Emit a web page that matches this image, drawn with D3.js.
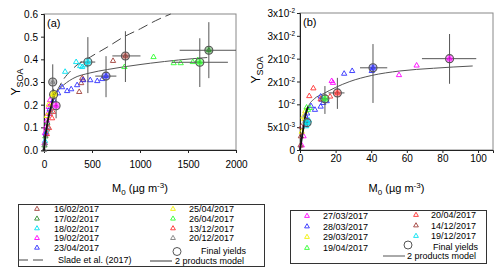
<!DOCTYPE html>
<html><head><meta charset="utf-8">
<script src="https://cdn.jsdelivr.net/npm/d3@7"></script>
<style>body{margin:0;background:#fff}svg{font-family:"Liberation Sans",Arial,sans-serif}</style>
</head><body><svg id="c" width="500" height="275"></svg>
<script>
// ---------- DATA: panel (a) ----------
const xTicksA = [0, 500, 1000, 1500, 2000];
const yTicksA = [0, 0.1, 0.2, 0.3, 0.4, 0.5, 0.6];
const yTickLabelsA = ["0.0","0.1","0.2","0.3","0.4","0.5","0.6"];
const seriesNamesA = ["16/02/2017","17/02/2017","18/02/2017","19/02/2017","23/04/2017","25/04/2017","26/04/2017","13/12/2017","20/12/2017"];
const seriesColorsA = ["#a0403a","#2e8b2e","#00e0f0","#ff00ff","#3030ff","#f0f000","#30ff30","#ff3030","#808080"];
const a_16_02 = [[367,0.256],[387,0.295],[398,0.317],[408,0.31],[719,0.393],[30,0.09],[60,0.16]];
const a_17_02 = [[5,0.02],[15,0.06],[35,0.12]];
const a_18_02 = [[220,0.345],[335,0.388],[377,0.37],[398,0.366],[430,0.374],[10,0.04],[25,0.08]];
const a_19_02 = [[5,0.03],[10,0.075],[20,0.1],[30,0.13],[40,0.16],[50,0.19],[63,0.22],[70,0.2]];
const a_23_04 = [[147,0.25],[188,0.277],[241,0.26],[283,0.268],[345,0.286],[408,0.308],[482,0.308],[555,0.304],[607,0.313],[20,0.07],[60,0.18],[100,0.22]];
const a_25_04 = [[30,0.15],[50,0.2],[90,0.245],[110,0.25]];
const a_26_04 = [[838,0.366],[1141,0.41],[1351,0.383],[1424,0.383],[1550,0.388],[1602,0.396]];
const a_13_12 = [[52,0.097],[84,0.14],[94,0.168],[30,0.07]];
const a_20_12 = [[0,0],[10,0.03],[40,0.1],[70,0.17]];
const seriesA = [a_16_02,a_17_02,a_18_02,a_19_02,a_23_04,a_25_04,a_26_04,a_13_12,a_20_12];
// final yields: [M0, Y, xlo, xhi, ylo, yhi, seriesIndex]
const finalA = [
  [91,0.30,80,100,0.23,0.378,8],
  [100,0.245,92,110,0.22,0.27,5],
  [126,0.195,110,140,0.14,0.23,3],
  [457,0.388,377,534,0.251,0.498,2],
  [646,0.326,534,754,0.233,0.414,4],
  [848,0.415,712,1005,0.30,0.524,0],
  [1623,0.387,1330,1916,0.278,0.493,6],
  [1717,0.44,1413,2000,0.317,0.564,1]
];
const modelA = [[0,0],[20,0.07],[60,0.17],[115,0.245],[170,0.273],[300,0.315],[480,0.34],[660,0.355],[1000,0.377],[1110,0.383],[1400,0.397],[1700,0.408]];
const modelALow = [[0,0],[10,0.044],[40,0.13],[80,0.2],[115,0.255]];
const sladeA = [[0,0],[60,0.17],[168,0.286],[304,0.36],[482,0.41],[660,0.454],[827,0.498],[1005,0.535],[1160,0.57],[1320,0.6]];

// ---------- DATA: panel (b) ----------
const xTicksB = [0, 20, 40, 60, 80, 100];
const yTicksB = [0, 0.005, 0.01, 0.015, 0.02, 0.025, 0.03];
const yTickLabelsB = ["0","5x10^-3","10^-2","2x10^-2","2x10^-2","3x10^-2","3x10^-2"];
const seriesNamesB = ["27/03/2017","28/03/2017","29/03/2017","19/04/2017","20/04/2017","14/12/2017","19/12/2017"];
const seriesColorsB = ["#ff00ff","#3030ff","#f0f000","#30ff30","#ff3030","#a0403a","#00e0f0"];
const b_27_03 = [[65.5,0.0185],[55.6,0.0164],[17.8,0.0151],[18.5,0.0147],[1,0.001],[2,0.003],[3,0.0055],[4,0.0065]];
const b_28_03 = [[29.3,0.0173],[24.8,0.0167],[40.3,0.0173],[11.6,0.0117],[12.2,0.011],[13,0.0103],[11.6,0.0095],[8.4,0.0088],[6.2,0.0096],[15,0.0107],[4,0.008],[3,0.0075]];
const b_29_03 = [[1.9,0.0073],[1,0.004],[3,0.0085],[2.5,0.0068]];
const b_19_04 = [[3.7,0.0093],[5.6,0.0092],[4.5,0.0088]];
const b_20_04 = [[7.5,0.0135],[5.2,0.0118],[16.9,0.0117],[11.6,0.0111]];
const b_14_12 = [[0.9,0.0051],[0.5,0.003],[0.3,0.001]];
const b_19_12 = [[4.5,0.0059],[3.5,0.0052],[5,0.0065]];
const seriesB = [b_27_03,b_28_03,b_29_03,b_19_04,b_20_04,b_14_12,b_19_12];
const finalB = [
  [41,0.018,33.7,49,0.0103,0.0232,1],
  [84,0.020,68.5,99,0.0145,0.0254,0],
  [21,0.0125,16,25,0.009,0.0158,4],
  [14,0.0112,12,16,0.0079,0.014,3],
  [4,0.006,3,5,0.005,0.007,6]
];
const modelB = [[0,0],[1,0.003],[2.5,0.0065],[4.7,0.0095],[8,0.0112],[13,0.0123],[20,0.0137],[28,0.015],[40,0.0163],[56,0.0173],[75,0.0179],[97,0.0184]];
const modelBLow = [[0,0],[1,0.0025],[2,0.005],[3,0.0075],[4.5,0.0095]];

// ---------- DRAW ----------
const svg = d3.select("#c");
svg.append("rect").attr("width",500).attr("height",275).attr("fill","#fff");

function tri(g, x, y, color, size){
  g.append("path").attr("d", d3.symbol(d3.symbolTriangle, size||12)())
   .attr("transform",`translate(${x},${y})`)
   .attr("fill","none").attr("stroke",color).attr("stroke-width",0.9);
}

function addSupSub(textSel, s){
  const parts = s.split("^");
  textSel.append("tspan").text(parts[0]);
  if(parts[1]) textSel.append("tspan").attr("font-size","6.5px").attr("dy","-4").text(parts[1]);
}

function panel(opt){
  const {x, y, xTicks, yTicks, yLabels, series, colors, finals, model, modelLow, slade, tag, xLabY} = opt;
  const g = svg.append("g");
  const [x0,x1] = x.range(), [y0,y1] = y.range();
  g.append("rect").attr("x",x0).attr("y",y1).attr("width",x1-x0).attr("height",y0-y1)
    .attr("fill","none").attr("stroke","#888").attr("stroke-width",1);
  const ax = g.append("g").attr("transform",`translate(0,${y0})`)
    .call(d3.axisBottom(x).tickValues(xTicks).tickSize(3).tickPadding(opt.xPad).tickFormat(d3.format("d")));
  ax.selectAll("text").attr("font-size","10px").attr("fill","#000").attr("font-family","Liberation Sans, Arial, sans-serif");
  const ay = g.append("g").attr("transform",`translate(${x0},0)`)
    .call(d3.axisLeft(y).tickValues(yTicks).tickSize(3).tickFormat(()=>""));
  ay.selectAll(".tick").each(function(d,i){
    const t = d3.select(this).append("text").attr("x",-opt.yPad).attr("dy","0.35em")
      .attr("text-anchor","end").attr("font-size","10px").attr("fill","#000")
      .attr("font-family","Liberation Sans, Arial, sans-serif");
    addSupSub(t, yLabels[i]);
  });
  [ax,ay].forEach(a=>{a.select(".domain").attr("stroke","#222");a.selectAll("line").attr("stroke","#222");});
  const line = d3.line().x(d=>x(d[0])).y(d=>y(d[1])).curve(d3.curveMonotoneX);
  if(slade) g.append("path").attr("d",line(slade)).attr("fill","none").attr("stroke","#444").attr("stroke-width",1).attr("stroke-dasharray","10,5");
  g.append("path").attr("d",line(model)).attr("fill","none").attr("stroke","#555").attr("stroke-width",1);
  series.forEach((s,i)=> s.forEach(p=> tri(g, x(p[0]), y(p[1]), colors[i])));
  g.append("path").attr("d",line(modelLow)).attr("fill","none").attr("stroke","#111").attr("stroke-width",1.8);
  finals.forEach(f=>{
    g.append("line").attr("x1",x(f[2])).attr("x2",x(f[3])).attr("y1",y(f[1])).attr("y2",y(f[1])).attr("stroke","#555");
    g.append("line").attr("x1",x(f[0])).attr("x2",x(f[0])).attr("y1",y(f[4])).attr("y2",y(f[5])).attr("stroke","#555");
    g.append("circle").attr("cx",x(f[0])).attr("cy",y(f[1])).attr("r",4)
      .attr("fill",colors[f[6]]).attr("fill-opacity",0.45).attr("stroke","#555").attr("stroke-width",1.1);
    tri(g, x(f[0]), y(f[1]), colors[f[6]], 9);
  });
  g.append("text").attr("x",x0+3).attr("y",y1+13).attr("font-size","11px").text(tag);
  const xl = g.append("text").attr("x",(x0+x1)/2).attr("y",xLabY).attr("text-anchor","middle").attr("font-size","11px");
  xl.append("tspan").text("M");
  xl.append("tspan").attr("font-size","8px").attr("dy","3").text("0");
  xl.append("tspan").attr("dy","-3").text(" (µg m");
  xl.append("tspan").attr("font-size","8px").attr("dy","-4").text("-3");
  xl.append("tspan").attr("dy","4").text(")");
  const yl = g.append("text").attr("transform",`translate(${opt.yLabX},${opt.yLabY}) rotate(-90)`)
    .attr("text-anchor","middle").attr("font-size","12px");
  yl.append("tspan").text("Y");
  yl.append("tspan").attr("font-size","9px").attr("dy","3").text("SOA");
}

const xA = d3.scaleLinear().domain([0,2000]).range([44,236]);
const yA = d3.scaleLinear().domain([0,0.6]).range([150,14]);
const xB = d3.scaleLinear().domain([0,108.4]).range([300,493]);
const yB = d3.scaleLinear().domain([0,0.03]).range([150,13]);

panel({x:xA,y:yA,xTicks:xTicksA,yTicks:yTicksA,yLabels:yTickLabelsA,series:seriesA,colors:seriesColorsA,
  finals:finalA,model:modelA,modelLow:modelALow,slade:sladeA,tag:"(a)",xLabY:192,xPad:8,yPad:6,yLabX:20,yLabY:82});
panel({x:xB,y:yB,xTicks:xTicksB,yTicks:yTicksB,yLabels:yTickLabelsB,series:seriesB,colors:seriesColorsB,
  finals:finalB,model:modelB,modelLow:modelBLow,slade:null,tag:"(b)",xLabY:192,xPad:2,yPad:5,yLabX:260,yLabY:70});

// ---------- LEGENDS ----------
function legText(x,y,t){ svg.append("text").attr("x",x).attr("y",y).attr("dy","0.35em").attr("font-size","9px").text(t); }
svg.append("rect").attr("x",18.5).attr("y",204.5).attr("width",246).attr("height",62).attr("fill","#fff").attr("stroke","#333");
const legAL = [209,218.7,228.4,238.1,247.8], legAR = [209,218.7,228.4,238.1];
[0,1,2,3,4].forEach((k,i)=>{ tri(svg,37,legAL[i],seriesColorsA[k],10); legText(54,legAL[i],seriesNamesA[k]); });
[5,6,7,8].forEach((k,i)=>{ tri(svg,173,legAR[i],seriesColorsA[k],10); legText(189,legAR[i],seriesNamesA[k]); });
svg.append("circle").attr("cx",177).attr("cy",251.5).attr("r",4).attr("fill","none").attr("stroke","#555");
legText(201,251,"Final yields");
svg.append("line").attr("x1",18).attr("x2",47).attr("y1",260).attr("y2",260).attr("stroke","#444").attr("stroke-dasharray","10,5");
legText(58,259.5,"Slade et al. (2017)");
svg.append("line").attr("x1",150).attr("x2",172).attr("y1",261).attr("y2",261).attr("stroke","#777").attr("stroke-width",1.5);
legText(175,260.8,"2 products model");
svg.append("rect").attr("x",290.5).attr("y",210.5).attr("width",196).attr("height",53).attr("fill","#fff").attr("stroke","#333");
const legBL = [216,226.5,237,248], legBR = [215,225.5,236];
[0,1,2,3].forEach((k,i)=>{ tri(svg,307,legBL[i],seriesColorsB[k],10); legText(323,legBL[i],seriesNamesB[k]); });
[4,5,6].forEach((k,i)=>{ tri(svg,416,legBR[i],seriesColorsB[k],10); legText(431,legBR[i],seriesNamesB[k]); });
svg.append("circle").attr("cx",408).attr("cy",245).attr("r",4).attr("fill","none").attr("stroke","#555");
legText(433,246.5,"Final yields");
svg.append("line").attr("x1",383).attr("x2",405).attr("y1",256).attr("y2",256).attr("stroke","#555");
legText(407,256,"2 products model");
</script></body></html>
